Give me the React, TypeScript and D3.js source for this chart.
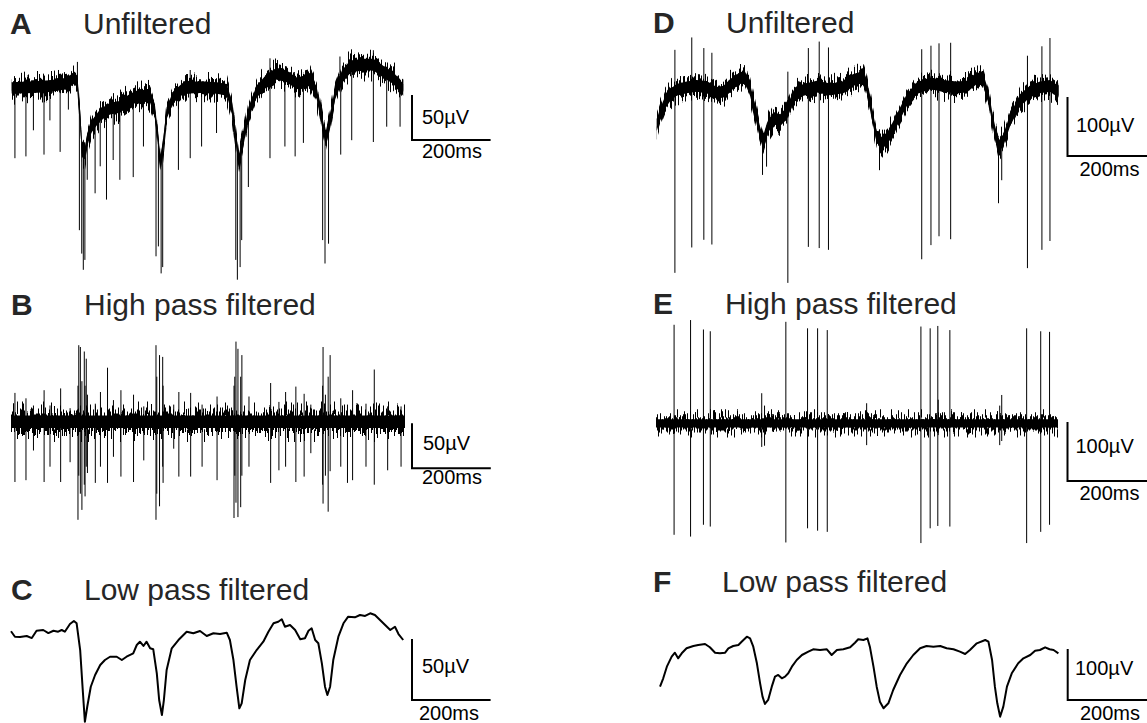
import * as d3 from "d3";

type Pt = [number, number];
type Spike2 = [number, number]; // [t ms, tip µV] drawn from the slow trace
type Spike3 = [number, number, number]; // [t ms, top µV, bottom µV]

// ---- data (time in ms, voltage in µV) ----

// C: low pass filtered, left recording
const LFP_LEFT: Pt[] = [
  [0, -1], [10, -5.5], [23, -5.7], [40, -4.9], [53, -6.6], [65, -0.6], [82, 0], [95, -2.5],
  [108, -0.6], [120, -1.4], [129, 0], [137, -1.4], [150, 4.9], [160, 7.4], [167, 5.5],
  [176, -16.4], [182, -46.5], [188, -75.2], [194, -62.9], [203, -46.5], [214, -36.9],
  [227, -28.7], [239, -24.6], [252, -21.9], [269, -21.9], [282, -24.6], [294, -21.9],
  [311, -19.1], [320, -12.3], [328, -9.6], [337, -13.1], [345, -9.6], [354, -15], [362, -15.8],
  [371, -35.5], [377, -57.4], [384, -69.7], [389, -57.4], [396, -32.8], [409, -15], [426, -8.2],
  [447, -1.4], [464, -2.7], [481, -0.8], [498, -4.9], [515, -2.7], [532, -3.3], [549, -2.2],
  [557, -8.2], [566, -24.6], [574, -46.5], [581, -64.2], [587, -60.1], [596, -41], [608, -24.6],
  [625, -16.4], [642, -9.6], [655, -1.4], [668, 5.5], [680, 6.8], [689, 8.8], [697, 2.7],
  [710, 4.1], [723, 0], [736, -7.6], [748, -6.8], [757, -0.6], [765, 1.4], [774, -8.2],
  [782, -10.9], [791, -27.3], [799, -46.5], [805, -53.3], [812, -46.5], [820, -24.6], [833, -5.5],
  [846, 5.5], [858, 10.9], [875, 10.4], [888, 12.3], [901, 11.5], [914, 13.7], [926, 12.3],
  [939, 8.2], [952, 4.1], [965, 0], [977, 2.7], [986, -3.3], [998, -8.2],
];

// F: low pass filtered, right recording
const LFP_RIGHT: Pt[] = [
  [10, -81.7], [18, -65.3], [27, -42.5], [39, -22.9], [47, -15.1], [55, -26.1], [64, -16.3],
  [76, -6.5], [93, -2], [105, 0], [122, 2], [134, -4.5], [147, -15.1], [159, -16.3], [172, -15.1],
  [180, -6.5], [192, -2], [205, 0], [213, 6.5], [226, 16.3], [234, 13.1], [242, -3.3], [251, -35.9],
  [259, -75.1], [265, -101.3], [271, -115.6], [279, -107.8], [288, -81.7], [296, -62.1],
  [304, -58.8], [313, -65.3], [321, -62.1], [329, -55.5], [338, -42.5], [350, -29.4], [363, -19.6],
  [379, -13.1], [391, -8.4], [408, -9.8], [425, -8.4], [437, -19.6], [450, -9.8], [466, -8.4],
  [483, -4.5], [495, 4.5], [503, 11.2], [516, 9.8], [526, 13.1], [532, -3.3], [541, -42.5],
  [549, -81.7], [557, -111.1], [566, -124.1], [578, -114.3], [590, -88.2], [607, -58.8],
  [624, -35.9], [640, -19.6], [657, -6.5], [673, -2], [690, -3.3], [707, -2], [723, -6.5],
  [740, -8.4], [756, -13.1], [769, -17.6], [781, -9.8], [798, 3.3], [819, 9.8], [827, 6.5],
  [836, -29.4], [843, -81.7], [849, -114.3], [856, -140.5], [864, -120.9], [873, -81.7],
  [885, -55.5], [901, -35.9], [914, -26.1], [931, -19.6], [943, -11.2], [955, -9.8], [968, -4.5],
  [979, -8.4], [989, -9.8], [1001, -16.3],
];

// A: centre of the unfiltered trace
const RAW_LEFT: Pt[] = [
  [2, 0], [57, 1], [99, 2], [142, 5], [160, 11], [169, 7], [176, -32], [181, -69], [188, -73],
  [194, -58], [205, -43], [227, -30], [252, -23], [277, -21], [303, -13], [328, -8], [354, -10],
  [366, -24], [375, -61], [381, -84], [388, -61], [396, -28], [413, -10], [439, 0], [481, 1],
  [524, 0], [549, -2], [562, -21], [573, -58], [580, -80], [590, -61], [604, -28], [625, -4],
  [651, 9], [676, 16], [702, 13], [727, 5], [744, 7], [761, 9], [778, -6], [791, -36], [801, -58],
  [812, -36], [825, -6], [842, 13], [863, 24], [897, 26], [922, 26], [948, 18], [973, 11], [998, -2],
];

// D: centre of the unfiltered trace
const RAW_RIGHT: Pt[] = [
  [2, -64], [10, -47], [22, -27], [35, -14], [51, -5], [76, -0.5], [101, 2], [126, 0], [151, -10],
  [168, -8], [184, 3], [209, 15], [221, 17], [234, -5], [246, -39], [259, -78], [267, -95],
  [279, -67], [292, -53], [309, -56], [325, -45], [342, -16], [367, -5], [400, 0.5], [433, -4],
  [466, -0.5], [491, 12], [516, 17], [524, 0.5], [537, -45], [549, -84], [562, -95], [578, -84],
  [599, -56], [624, -22], [649, -2], [682, 6], [715, 2], [748, -0.5], [773, 0.5], [798, 15],
  [814, 12], [827, -16], [839, -62], [852, -101], [864, -90], [881, -56], [906, -22], [930, -8],
  [955, -0.5], [980, 2], [1001, -8],
];

// B and E: high pass filtered traces sit on a flat line
const FLAT: Pt[] = [[0, 0], [1000, 0]];

// A: spike tips, drawn from the slow trace
const SPIKES_A: Spike2[] = [
  [10, -78], [38, -76], [57, -47], [84, -74], [99, -36], [125, -71], [146, -24], [169, 29],
  [174, -158], [180, -184], [184, -202], [188, -191], [194, -102], [214, -117], [227, -87],
  [243, -124], [260, -80], [277, -102], [311, -99], [337, -65], [369, -187], [375, -176],
  [382, -206], [386, -199], [426, -91], [456, -78], [456, 20], [485, -65], [523, -50],
  [572, -191], [576, -213], [583, -199], [587, -169], [604, -110], [659, -78], [659, 33],
  [697, -65], [723, -76], [744, -61], [793, -169], [799, -195], [808, -173], [837, 35],
  [839, -74], [867, -58], [922, -60], [922, 42], [956, -43], [990, -43],
];

// B: spikes, top and bottom tips
const SPIKES_B: Spike3[] = [
  [10, 32, -67], [38, 26, -65], [57, 18, -32], [84, 35, -67], [99, 18, -50], [126, 37, -67],
  [150, 15, -45], [170, 40, -109], [172, 85, -60], [176, 83, -80], [180, 45, -98], [186, 78, -70],
  [188, 40, -83], [191, 70, -50], [194, 30, -57], [214, 20, -68], [227, 33, -50], [245, 60, -68],
  [260, 24, -39], [279, 35, -61], [311, 30, -67], [337, 17, -43], [368, 85, -109], [370, 50, -80],
  [377, 74, -94], [385, 72, -50], [386, 40, -68], [413, 19, -30], [426, 33, -61], [456, 32, -61],
  [485, 19, -50], [523, 28, -65], [566, 40, -107], [568, 50, -60], [571, 89, -90], [576, 81, -106],
  [583, 50, -95], [586, 74, -60], [604, 28, -50], [659, 43, -68], [680, 22, -54], [697, 33, -50],
  [723, 39, -67], [744, 31, -61], [761, 19, -35], [791, 40, -70], [792, 83, -91], [798, 30, -60],
  [805, 50, -100], [810, 74, -55], [837, 26, -50], [854, 19, -68], [867, 35, -65], [901, 20, -50],
  [922, 58, -70], [956, 17, -54], [990, 17, -50],
];

// D: spikes, top and bottom tips
const SPIKES_D: Spike3[] = [
  [47, 63, -315], [89, 84, -272], [119, 66, -259], [139, 58, -267], [265, -90, -149],
  [275, -80, -135], [328, 26, -332], [379, 66, -271], [406, 77, -273], [429, 67, -276],
  [556, -85, -141], [661, 64, -292], [684, 70, -268], [704, 74, -253], [733, 75, -258],
  [852, -95, -197], [860, -90, -158], [924, 53, -307], [960, 69, -276], [980, 83, -261],
];

// E: spikes, top and bottom tips
const SPIKES_E: Spike3[] = [
  [45, 167, -189], [86, 175, -192], [118, 159, -172], [135, 156, -175], [263, 51, -40],
  [270, 30, -38], [323, 172, -202], [377, 161, -178], [402, 161, -182], [426, 158, -184],
  [524, 34, -37], [659, 164, -203], [682, 161, -178], [701, 165, -174], [702, 40, -20],
  [731, 158, -175], [855, 30, -37], [860, 48, -30], [922, 161, -203], [957, 156, -184],
  [979, 155, -172],
];

// half width of the solid core of the noise band, µV
const NOISE_A = 6.5;
const NOISE_B = 7;
const NOISE_D = 10;
const NOISE_E = 7;

const BAR_MS = 200;

// ---- layout ----

type Panel = {
  id: string;
  title: string;
  letterX: number;
  titleX: number;
  baseline: number;
  x0: number;
  x1: number;
  y0: number;
  k: number; // px per µV
  kind: "raw" | "hp" | "lfp";
  slow: Pt[];
  noise?: number;
  jitter?: number;
  tips?: Spike2[];
  spikes?: Spike3[];
  barX: number;
  barY: number;
  barUV: number;
  uvX: number;
  uvY: number;
  msX: number;
  msY: number;
};

const PANELS: Panel[] = [
  {
    id: "A", title: "Unfiltered", letterX: 10, titleX: 83, baseline: 34,
    x0: 11, x1: 404, y0: 88, k: 0.9, kind: "raw", slow: RAW_LEFT, noise: NOISE_A, jitter: 22,
    tips: SPIKES_A, barX: 412, barY: 140, barUV: 50, uvX: 422, uvY: 123.5, msX: 422, msY: 157.5,
  },
  {
    id: "B", title: "High pass filtered", letterX: 11, titleX: 84, baseline: 315,
    x0: 11, x1: 405, y0: 421.7, k: 0.9, kind: "hp", slow: FLAT, noise: NOISE_B, jitter: 28,
    spikes: SPIKES_B, barX: 412, barY: 468.3, barUV: 50, uvX: 423, uvY: 450, msX: 422, msY: 484,
  },
  {
    id: "C", title: "Low pass filtered", letterX: 11, titleX: 84, baseline: 600,
    x0: 11, x1: 404, y0: 630, k: 1.22, kind: "lfp", slow: LFP_LEFT,
    barX: 412, barY: 700, barUV: 50, uvX: 422, uvY: 673, msX: 419, msY: 719.5,
  },
  {
    id: "D", title: "Unfiltered", letterX: 653, titleX: 726, baseline: 33,
    x0: 656, x1: 1058, y0: 87, k: 0.59, kind: "raw", slow: RAW_RIGHT, noise: NOISE_D, jitter: 20,
    spikes: SPIKES_D, barX: 1067.5, barY: 156, barUV: 100, uvX: 1076, uvY: 131.7, msX: 1079.5, msY: 176,
  },
  {
    id: "E", title: "High pass filtered", letterX: 653, titleX: 725, baseline: 313.5,
    x0: 656, x1: 1058, y0: 423.3, k: 0.59, kind: "hp", slow: FLAT, noise: NOISE_E, jitter: 20,
    spikes: SPIKES_E, barX: 1067.5, barY: 481, barUV: 100, uvX: 1075.5, uvY: 453.3, msX: 1079.5, msY: 500,
  },
  {
    id: "F", title: "Low pass filtered", letterX: 653, titleX: 722, baseline: 592,
    x0: 656, x1: 1058, y0: 645, k: 0.51, kind: "lfp", slow: LFP_RIGHT,
    barX: 1067.7, barY: 700, barUV: 100, uvX: 1075, uvY: 675, msX: 1080, msY: 719.5,
  },
];

const FONT = "'Liberation Sans', Arial, Helvetica, sans-serif";

// G' = 2·G − 0.5 widens the spread of the shift around 0.5; R is pinned to 0.5 (no sideways shift)
const SHIFT_MATRIX = "0 0 0 0 0.5  0 2 0 0 -0.5  0 0 0 0 0  0 0 0 0 1";

function PanelView({ p }: { p: Panel }) {
  const x = d3.scaleLinear().domain([0, 1000]).range([p.x0, p.x1]);
  const y = d3.scaleLinear().domain([0, 100]).range([p.y0, p.y0 - 100 * p.k]);

  const centre = d3
    .scaleLinear()
    .domain(p.slow.map((d) => d[0]))
    .range(p.slow.map((d) => d[1]))
    .clamp(true);

  const line = d3
    .line<Pt>()
    .x((d) => x(d[0]))
    .y((d) => y(d[1]));

  const h = p.noise ?? 0;
  const band = d3
    .area<Pt>()
    .x((d) => x(d[0]))
    .y0((d) => y(d[1] - h))
    .y1((d) => y(d[1] + h));

  const barH = y(0) - y(p.barUV);
  const barW = x(BAR_MS) - x(0);
  const seed = p.id.charCodeAt(0);

  return (
    <g>
      <text x={p.letterX} y={p.baseline} fontFamily={FONT} fontSize={30} fontWeight="bold" fill="#262626">
        {p.id}
      </text>
      <text x={p.titleX} y={p.baseline} fontFamily={FONT} fontSize={30} fill="#262626">
        {p.title}
      </text>

      {p.kind === "lfp" && (
        <path d={line(p.slow) ?? ""} fill="none" stroke="#000" strokeWidth={2} strokeLinejoin="round" />
      )}

      {p.kind !== "lfp" && (
        <>
          <defs>
            {/* solid core plus two copies whose pixel columns are shifted up or down */}
            <filter
              id={`jit-${p.id}`}
              filterUnits="userSpaceOnUse"
              x={0}
              y={0}
              width={1147}
              height={723}
              colorInterpolationFilters="sRGB"
            >
              <feTurbulence type="fractalNoise" baseFrequency="0.7 0.002" numOctaves={2} seed={seed} result="n1" />
              <feColorMatrix in="n1" type="matrix" values={SHIFT_MATRIX} result="m1" />
              <feDisplacementMap in="SourceGraphic" in2="m1" scale={p.jitter} xChannelSelector="R" yChannelSelector="G" result="d1" />
              <feTurbulence type="fractalNoise" baseFrequency="0.7 0.002" numOctaves={2} seed={seed + 40} result="n2" />
              <feColorMatrix in="n2" type="matrix" values={SHIFT_MATRIX} result="m2" />
              <feDisplacementMap in="SourceGraphic" in2="m2" scale={p.jitter} xChannelSelector="R" yChannelSelector="G" result="d2" />
              <feMerge>
                <feMergeNode in="SourceGraphic" />
                <feMergeNode in="d1" />
                <feMergeNode in="d2" />
              </feMerge>
            </filter>
          </defs>
          <g filter={`url(#jit-${p.id})`}>
            <path d={band(p.slow) ?? ""} fill="#000" />
          </g>
          <g stroke="#000" strokeWidth={1}>
            {(p.tips ?? []).map((s, i) => (
              <line key={`t${i}`} x1={x(s[0])} x2={x(s[0])} y1={y(centre(s[0]))} y2={y(s[1])} />
            ))}
            {(p.spikes ?? []).map((s, i) => (
              <line key={`s${i}`} x1={x(s[0])} x2={x(s[0])} y1={y(s[1])} y2={y(s[2])} />
            ))}
          </g>
        </>
      )}

      {/* scale bar */}
      <path
        d={`M${p.barX},${p.barY - barH}V${p.barY}H${p.barX + barW}`}
        fill="none"
        stroke="#000"
        strokeWidth={2}
      />
      <text x={p.uvX} y={p.uvY} fontFamily={FONT} fontSize={20} fill="#000">
        {`${p.barUV}µV`}
      </text>
      <text x={p.msX} y={p.msY} fontFamily={FONT} fontSize={20} fill="#000">
        {`${BAR_MS}ms`}
      </text>
    </g>
  );
}

export default function App() {
  return (
    <svg
      width={1147}
      height={723}
      viewBox="0 0 1147 723"
      style={{ position: "absolute", left: 0, top: 0, background: "#fff" }}
    >
      <rect width={1147} height={723} fill="#fff" />
      {PANELS.map((p) => (
        <PanelView key={p.id} p={p} />
      ))}
    </svg>
  );
}
